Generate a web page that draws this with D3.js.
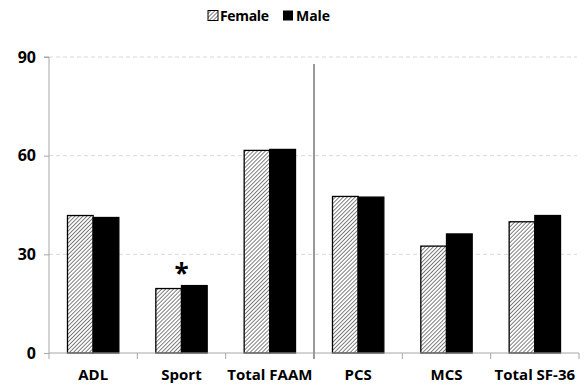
<!DOCTYPE html>
<html>
<head>
<meta charset="utf-8">
<script src="https://cdn.jsdelivr.net/npm/d3@7"></script>
<style>
  body { margin: 0; background: #fff; }
  text { font-family: "Open Sans", "Noto Sans", sans-serif; font-weight: bold; }
</style>
</head>
<body>
<div id="chart"></div>
<script>
// data
const categories = ["ADL", "Sport", "Total FAAM", "PCS", "MCS", "Total SF-36"]
const female = [41.8, 19.6, 61.6, 47.6, 32.5, 39.9]
const male = [41.2, 20.5, 61.9, 47.4, 36.2, 41.8]
const yTicks = [0, 30, 60, 90]
const seriesNames = ["Female", "Male"]

const width = 586, height = 391
const margin = {left: 49, right: 7, top: 57, bottom: 38}

const svg = d3.select("#chart").append("svg")
    .attr("width", width)
    .attr("height", height)

const defs = svg.append("defs")
const pat = defs.append("pattern")
    .attr("id", "hatch")
    .attr("patternUnits", "userSpaceOnUse")
    .attr("width", 2.8).attr("height", 2.8)
    .attr("patternTransform", "rotate(45)")
pat.append("rect").attr("width", 2.8).attr("height", 2.8).attr("fill", "#fff")
pat.append("line")
    .attr("x1", 0).attr("y1", 0).attr("x2", 0).attr("y2", 2.8)
    .attr("stroke", "#555").attr("stroke-width", 1.5)

const x = d3.scaleBand()
    .domain(categories)
    .range([margin.left, width - margin.right])
    .paddingInner(0).paddingOuter(0)

const y = d3.scaleLinear()
    .domain([0, 90])
    .range([height - margin.bottom, margin.top])

const inner = d3.scaleBand()
    .domain(seriesNames)
    .range([0, x.bandwidth()])
    .paddingOuter(0.72).paddingInner(0)

// gridlines
svg.append("g").selectAll("line")
    .data(yTicks.filter(d => d > 0)).enter()
    .append("line")
    .attr("x1", margin.left).attr("x2", width - 9)
    .attr("y1", d => y(d)).attr("y2", d => y(d))
    .attr("stroke", "#d9d9d9")
    .attr("stroke-dasharray", "4,3")

// y axis
const yAxis = svg.append("g")
    .attr("transform", `translate(${margin.left},0)`)
    .call(d3.axisLeft(y).tickValues(yTicks).tickSize(5).tickPadding(8))
yAxis.select(".domain").attr("stroke", "#a6a6a6").attr("d", `M-5,${y(90)}H0V${y(0) + 6}`)
yAxis.selectAll(".tick line").attr("stroke", "#a6a6a6")
yAxis.selectAll(".tick text").attr("font-size", 16).attr("fill", "#000")

// bars
const groups = svg.append("g").selectAll("g")
    .data(categories).enter()
    .append("g")
    .attr("transform", d => `translate(${x(d)},0)`)

groups.append("rect")
    .attr("x", inner("Female"))
    .attr("width", inner.bandwidth())
    .attr("y", (d, i) => y(female[i]))
    .attr("height", (d, i) => y(0) - y(female[i]))
    .attr("fill", "url(#hatch)")
    .attr("stroke", "#000").attr("stroke-width", 1.3)

groups.append("rect")
    .attr("x", inner("Male"))
    .attr("width", inner.bandwidth())
    .attr("y", (d, i) => y(male[i]))
    .attr("height", (d, i) => y(0) - y(male[i]))
    .attr("fill", "#000")
    .attr("stroke", "#000").attr("stroke-width", 1.3)

// x axis
const xAxis = svg.append("g")
    .attr("transform", `translate(0,${y(0)})`)
    .call(d3.axisBottom(x).tickSize(0).tickPadding(16))
xAxis.select(".domain").attr("stroke", "#a6a6a6").attr("d", `M${margin.left},0H${width - margin.right}`)
xAxis.selectAll(".tick text").attr("font-size", 15).attr("fill", "#000")
svg.append("g").selectAll("line")
    .data(categories.slice(1).concat(["end"])).enter()
    .append("line")
    .attr("x1", (d, i) => x.step() * (i + 1) + margin.left)
    .attr("x2", (d, i) => x.step() * (i + 1) + margin.left)
    .attr("y1", y(0)).attr("y2", y(0) + 6)
    .attr("stroke", "#a6a6a6")

// separator between FAAM and SF-36
const sepX = x("PCS")
svg.append("line")
    .attr("x1", sepX).attr("x2", sepX)
    .attr("y1", 64).attr("y2", y(0) + 6)
    .attr("stroke", "#999").attr("stroke-width", 2)

// significance
svg.append("text")
    .attr("x", x("Sport") + inner("Male"))
    .attr("y", y(female[1]) - 6)
    .attr("text-anchor", "middle")
    .attr("font-size", 26)
    .text("*")

// legend
const legend = svg.append("g").attr("transform", "translate(208,9)")
legend.append("rect").attr("x", 0).attr("y", 1.5).attr("width", 10).attr("height", 10)
    .attr("fill", "url(#hatch)").attr("stroke", "#000").attr("stroke-width", 1)
legend.append("text").attr("x", 12).attr("y", 12).attr("font-size", 14)
    .attr("textLength", 49).text("Female")
legend.append("rect").attr("x", 75).attr("y", 1.5).attr("width", 10).attr("height", 10)
    .attr("fill", "#000")
legend.append("text").attr("x", 88).attr("y", 12).attr("font-size", 14)
    .attr("textLength", 34).text("Male")
</script>
</body>
</html>
